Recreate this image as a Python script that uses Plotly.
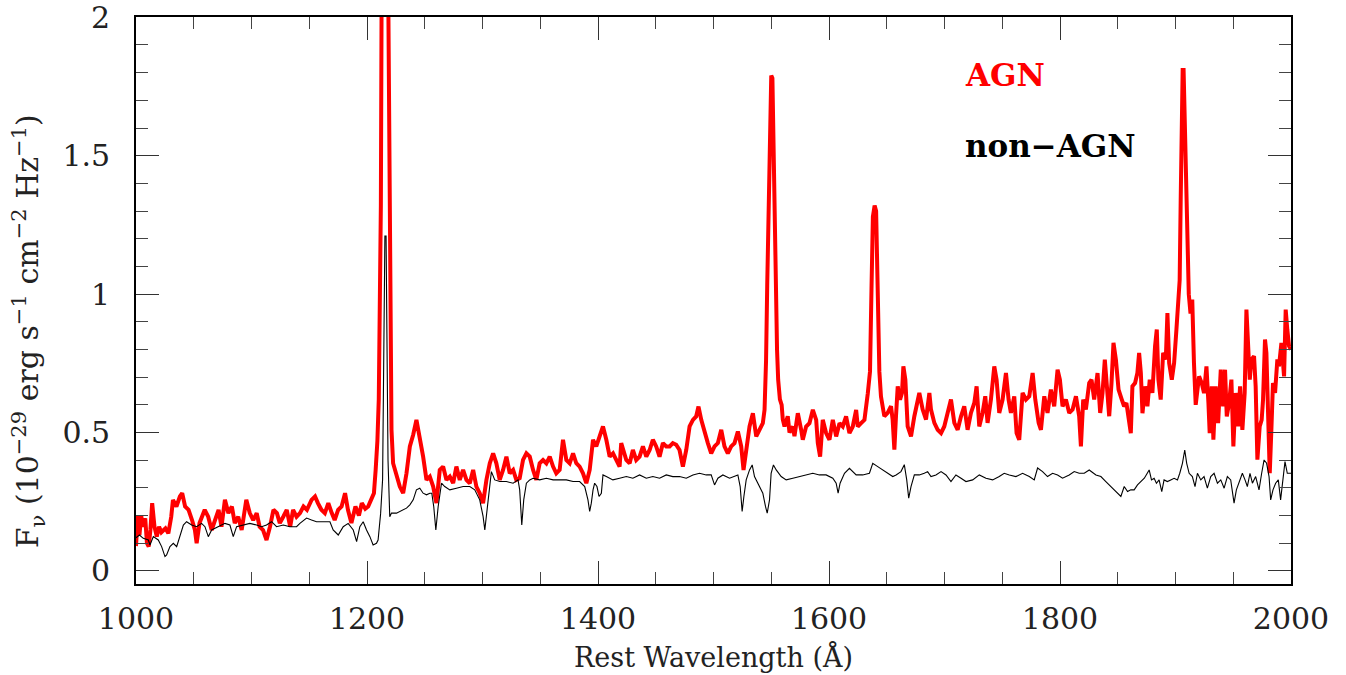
import plotly.graph_objects as go

# ---- data (rest wavelength in Angstrom, flux in 1e-29 erg/s/cm2/Hz) ----
agn_spectrum = [
    (1000.0, 0.09), (1001.5, 0.20), (1003, 0.13), (1004.5, 0.20), (1006, 0.16), (1008, 0.19), (1009.5, 0.10),
    (1011, 0.088), (1012.5, 0.15), (1014, 0.245), (1016, 0.16), (1018, 0.124), (1020, 0.16), (1022, 0.14),
    (1024, 0.148), (1025.5, 0.154), (1028, 0.136), (1030.5, 0.196), (1032, 0.257), (1035, 0.233), (1038, 0.269),
    (1040, 0.281), (1042.5, 0.233), (1045.5, 0.221), (1048.5, 0.184), (1051, 0.148), (1052.5, 0.10), (1055, 0.173),
    (1059.5, 0.221), (1062.5, 0.196), (1065.5, 0.148), (1068.5, 0.184), (1071.5, 0.221), (1074, 0.16), (1077, 0.257),
    (1080, 0.209), (1083, 0.233), (1085.5, 0.173), (1088.5, 0.196), (1091.5, 0.148), (1095.5, 0.257), (1098.5, 0.209),
    (1101.5, 0.184), (1104.5, 0.209), (1107, 0.16), (1110, 0.148), (1113, 0.112), (1116, 0.16), (1119, 0.221),
    (1122, 0.209), (1124.5, 0.173), (1127.5, 0.196), (1130.5, 0.221), (1133.5, 0.16), (1136, 0.221), (1139, 0.196),
    (1142, 0.209), (1145, 0.233), (1148, 0.221), (1152, 0.257), (1155, 0.269), (1157.5, 0.245), (1160.5, 0.221),
    (1163.5, 0.209), (1166.5, 0.245), (1169.5, 0.209), (1172, 0.184), (1175, 0.221), (1178, 0.233), (1181, 0.281),
    (1183.5, 0.221), (1186.5, 0.173), (1190, 0.233), (1193, 0.20), (1195.5, 0.245), (1198.5, 0.225), (1201, 0.233),
    (1203.5, 0.257), (1206, 0.281), (1207.5, 0.365), (1209, 0.47), (1210.2, 0.62), (1211.2, 0.9), (1212, 1.32),
    (1213, 2.5), (1214.5, 3.0), (1216, 3.2), (1217.5, 2.6), (1218.5, 1.95), (1219.5, 1.06), (1220.3, 0.7),
    (1221.2, 0.51), (1222.6, 0.389), (1225.5, 0.341), (1228.4, 0.305), (1231.3, 0.281), (1234.2, 0.353),
    (1237.1, 0.45), (1240, 0.492), (1242.8, 0.546), (1245.7, 0.486), (1248.6, 0.413), (1251.5, 0.329),
    (1254.4, 0.341), (1257.3, 0.305), (1260.1, 0.245), (1263, 0.365), (1265.9, 0.377), (1268.8, 0.329),
    (1271.7, 0.341), (1274.6, 0.317), (1277.4, 0.377), (1280.3, 0.329), (1283.2, 0.365), (1286.1, 0.329),
    (1289, 0.317), (1291.9, 0.365), (1294.7, 0.305), (1297.6, 0.281), (1300.5, 0.245), (1303.4, 0.329),
    (1306.3, 0.389), (1309.2, 0.425), (1312, 0.389), (1314.9, 0.329), (1317.8, 0.365), (1320.7, 0.413),
    (1323.6, 0.353), (1326.5, 0.365), (1329.3, 0.329), (1332.2, 0.335), (1335.1, 0.401), (1338, 0.425),
    (1340.9, 0.413), (1343.8, 0.365), (1346.6, 0.329), (1349.5, 0.389), (1352.4, 0.401), (1355.3, 0.389),
    (1358.2, 0.413), (1361.1, 0.377), (1363.9, 0.353), (1366.8, 0.365), (1369.7, 0.474), (1372.6, 0.401),
    (1375.5, 0.389), (1378.4, 0.425), (1381.2, 0.389), (1384.1, 0.377), (1387, 0.353), (1389.9, 0.317),
    (1392.8, 0.365), (1395.7, 0.474), (1398.5, 0.45), (1401.4, 0.486), (1404.3, 0.522), (1407.2, 0.474),
    (1410.1, 0.413), (1413, 0.425), (1415.9, 0.401), (1418.7, 0.377), (1420.1, 0.462), (1424.5, 0.401),
    (1427.4, 0.389), (1430.2, 0.437), (1433.1, 0.401), (1436, 0.413), (1438.9, 0.45), (1441.8, 0.413),
    (1444.7, 0.437), (1447.5, 0.474), (1450.4, 0.45), (1453.3, 0.413), (1456.2, 0.462), (1459.1, 0.45),
    (1462, 0.45), (1464.8, 0.462), (1467.7, 0.456), (1470.6, 0.437), (1473.5, 0.377), (1476.4, 0.437),
    (1479.3, 0.522), (1482.2, 0.546), (1485, 0.558), (1487, 0.594), (1489.4, 0.546), (1492.2, 0.498),
    (1495.1, 0.462), (1498, 0.425), (1500.9, 0.45), (1503.8, 0.462), (1506.7, 0.51), (1509.5, 0.45),
    (1512.4, 0.425), (1515.3, 0.45), (1518.2, 0.462), (1521.1, 0.504), (1524, 0.45), (1526, 0.365),
    (1528.3, 0.437), (1531.2, 0.522), (1534.1, 0.57), (1537, 0.486), (1539.8, 0.51), (1542.7, 0.534),
    (1544.2, 0.582), (1545.5, 0.76), (1546.5, 1.03), (1547.5, 1.26), (1548.3, 1.44), (1549.2, 1.68),
    (1550, 1.79), (1551, 1.78), (1552, 1.52), (1553, 1.14), (1554, 0.88), (1555, 0.8), (1556, 0.69),
    (1557.5, 0.62), (1559, 0.60), (1560, 0.547), (1561.5, 0.522), (1564.3, 0.559), (1565.8, 0.5),
    (1568.7, 0.522), (1570.1, 0.487), (1573, 0.57), (1575.9, 0.51), (1577.3, 0.474), (1580.2, 0.522),
    (1583.1, 0.534), (1586, 0.582), (1588.9, 0.546), (1590.3, 0.462), (1592.3, 0.413), (1594.6, 0.546),
    (1597.5, 0.498), (1600.4, 0.474), (1603.3, 0.546), (1606.2, 0.486), (1609.1, 0.534), (1611.9, 0.522),
    (1614.8, 0.558), (1617.7, 0.498), (1620.6, 0.522), (1623.5, 0.582), (1624.9, 0.522), (1627.8, 0.534),
    (1630.7, 0.546), (1633.6, 0.642), (1635.5, 0.72), (1636.8, 1.02), (1638, 1.28), (1639.5, 1.32),
    (1640.8, 1.30), (1641.8, 1.09), (1642.7, 0.87), (1643.6, 0.72), (1645, 0.63), (1646.5, 0.58),
    (1647.9, 0.559), (1650.8, 0.571), (1653.7, 0.595), (1655.1, 0.547), (1656.6, 0.438), (1658, 0.559),
    (1659.5, 0.667), (1661.5, 0.619), (1663.2, 0.643), (1664.4, 0.739), (1666.1, 0.691), (1668.1, 0.522),
    (1671, 0.486), (1673.9, 0.559), (1676.8, 0.619), (1678.2, 0.643), (1681.1, 0.583), (1684, 0.547),
    (1686.9, 0.643), (1688.3, 0.583), (1691.2, 0.535), (1694.1, 0.51), (1697, 0.498), (1699.8, 0.522),
    (1702.7, 0.571), (1705.6, 0.619), (1708.5, 0.535), (1711.4, 0.51), (1714.3, 0.559), (1717.1, 0.595),
    (1720, 0.51), (1722.9, 0.571), (1725.8, 0.607), (1727.8, 0.667), (1730.1, 0.522), (1733, 0.571),
    (1735.3, 0.631), (1737.3, 0.535), (1740.2, 0.619), (1743.1, 0.739), (1745.1, 0.691), (1747.4, 0.571),
    (1750.3, 0.619), (1753.2, 0.715), (1755.5, 0.619), (1757.5, 0.571), (1760.4, 0.631), (1762.4, 0.498),
    (1764.7, 0.474), (1767.6, 0.643), (1770.5, 0.619), (1773.4, 0.631), (1776.3, 0.715), (1778.6, 0.619),
    (1781.5, 0.535), (1783.5, 0.51), (1786.4, 0.631), (1789.2, 0.571), (1792.1, 0.655), (1795, 0.595),
    (1797.9, 0.727), (1799.9, 0.691), (1802.2, 0.595), (1805.1, 0.619), (1808, 0.571), (1810.9, 0.583),
    (1813.8, 0.631), (1816.6, 0.559), (1818.1, 0.45), (1820.1, 0.619), (1822.4, 0.583), (1825.3, 0.679),
    (1827.3, 0.691), (1829.6, 0.619), (1832.5, 0.715), (1834.8, 0.571), (1836.8, 0.643), (1838.8, 0.763),
    (1840.6, 0.667), (1842.6, 0.559), (1844.6, 0.679), (1846.3, 0.824), (1848.4, 0.763), (1850.7, 0.655),
    (1853.5, 0.619), (1855.5, 0.595), (1857.5, 0.607), (1859.3, 0.546), (1861.3, 0.498), (1862.7, 0.667),
    (1865, 0.679), (1867, 0.715), (1868.5, 0.788), (1870, 0.715), (1871.4, 0.57), (1873.7, 0.667),
    (1875.7, 0.595), (1877.7, 0.691), (1880, 0.643), (1882.3, 0.812), (1883.8, 0.872), (1885.2, 0.691),
    (1887.2, 0.619), (1889.3, 0.788), (1891.6, 0.764), (1893, 0.932), (1894.5, 0.751), (1896.8, 0.691),
    (1898.8, 0.751), (1900.8, 0.872), (1902.5, 0.968), (1903.6, 1.05), (1904.5, 1.34), (1905.3, 1.6),
    (1906.2, 1.81), (1907, 1.81), (1907.8, 1.68), (1908.8, 1.49), (1909.6, 1.3), (1910.5, 1.1),
    (1911.5, 1.0), (1913, 0.93), (1914.5, 0.98), (1916, 0.75), (1917.5, 0.6), (1920.4, 0.703),
    (1922.7, 0.679), (1924.7, 0.643), (1926.8, 0.739), (1928.5, 0.607), (1929.6, 0.498), (1931.4, 0.667),
    (1932.8, 0.474), (1934.8, 0.667), (1936.9, 0.534), (1939.2, 0.727), (1941.2, 0.595), (1942.9, 0.727),
    (1944.4, 0.558), (1946.4, 0.607), (1948.4, 0.691), (1950.1, 0.45), (1952.1, 0.643), (1954.2, 0.522),
    (1955.9, 0.667), (1957.9, 0.51), (1959.9, 0.643), (1961.4, 0.944), (1962.8, 0.776), (1964.3, 0.691),
    (1965.7, 0.764), (1968, 0.776), (1969.4, 0.667), (1970.9, 0.402), (1972.9, 0.522), (1974.6, 0.546),
    (1975.8, 0.619), (1977.5, 0.836), (1978.7, 0.788), (1980.1, 0.522), (1981.6, 0.353), (1983, 0.51),
    (1984.4, 0.679), (1986.2, 0.643), (1988.2, 0.764), (1989.6, 0.739), (1991.7, 0.824), (1994, 0.703),
    (1995.4, 0.944), (1996.8, 0.872), (1998.3, 0.812), (2000, 0.80),
]

non_agn_spectrum = [
    (1000, 0.12), (1003, 0.13), (1006.3, 0.118), (1010.7, 0.112), (1012.1, 0.094), (1015, 0.124), (1019.3, 0.112),
    (1022.2, 0.088), (1025.1, 0.052), (1026.5, 0.058), (1029.4, 0.088), (1032.3, 0.10), (1035.2, 0.088),
    (1038.1, 0.124), (1041, 0.166), (1043.8, 0.178), (1048.2, 0.166), (1052.5, 0.16), (1056.8, 0.172),
    (1059.7, 0.16), (1062.6, 0.124), (1065.5, 0.148), (1068.4, 0.154), (1071.2, 0.16), (1077, 0.172),
    (1081.3, 0.166), (1084.2, 0.124), (1087.1, 0.16), (1092.9, 0.166), (1098.6, 0.172), (1104.4, 0.166),
    (1108.7, 0.16), (1113, 0.166), (1117.4, 0.178), (1121.7, 0.16), (1127.5, 0.166), (1133.2, 0.16),
    (1139, 0.16), (1141.9, 0.172), (1147.7, 0.191), (1152, 0.184), (1156.3, 0.178), (1162.1, 0.178),
    (1167.9, 0.178), (1170.7, 0.148), (1175.1, 0.13), (1179.4, 0.16), (1183.7, 0.172), (1188.1, 0.148),
    (1191, 0.106), (1193.8, 0.16), (1196.7, 0.178), (1199.6, 0.148), (1202.5, 0.124), (1205.3, 0.094),
    (1208.2, 0.10), (1209.6, 0.112), (1211.8, 0.208), (1213.5, 0.33), (1214.5, 0.7), (1215.5, 1.21),
    (1216.5, 1.21), (1217.3, 0.86), (1218.2, 0.4), (1219.7, 0.196), (1221.2, 0.209), (1225.5, 0.209),
    (1228.4, 0.215), (1231.3, 0.221), (1234.2, 0.227), (1237.1, 0.239), (1240, 0.257), (1242.8, 0.293),
    (1245.7, 0.299), (1248.6, 0.281), (1251.5, 0.275), (1254.4, 0.281), (1256.1, 0.281), (1257.8, 0.232),
    (1259.6, 0.148), (1261.6, 0.232), (1264.5, 0.317), (1267.3, 0.305), (1271.7, 0.293), (1277.4, 0.299),
    (1283.2, 0.305), (1289, 0.305), (1293.3, 0.293), (1297.6, 0.257), (1300.5, 0.197), (1302, 0.148),
    (1304.8, 0.257), (1307.7, 0.359), (1310.6, 0.329), (1315, 0.323), (1320.7, 0.323), (1326.5, 0.317),
    (1330.8, 0.329), (1332.2, 0.293), (1334, 0.166), (1335.7, 0.257), (1338, 0.317), (1340.9, 0.329),
    (1343.8, 0.335), (1349.5, 0.329), (1355.3, 0.335), (1361.1, 0.329), (1366.8, 0.329), (1372.6, 0.329),
    (1378.4, 0.323), (1384.1, 0.323), (1388.5, 0.305), (1391.3, 0.257), (1392.8, 0.215), (1394.2, 0.245),
    (1395.7, 0.293), (1397.1, 0.317), (1399.1, 0.305), (1400.9, 0.269), (1402.9, 0.281), (1404.3, 0.347),
    (1407.2, 0.341), (1412.9, 0.329), (1418.7, 0.335), (1424.5, 0.341), (1430.2, 0.335), (1436, 0.347),
    (1441.8, 0.335), (1447.5, 0.341), (1453.3, 0.335), (1459.1, 0.347), (1464.8, 0.341), (1470.6, 0.341),
    (1476.4, 0.335), (1482.2, 0.347), (1487.9, 0.353), (1493.7, 0.347), (1498, 0.347), (1500.9, 0.311),
    (1503.8, 0.335), (1508.1, 0.347), (1513.9, 0.335), (1518.2, 0.341), (1521.1, 0.347), (1523.1, 0.305),
    (1524.8, 0.215), (1526.3, 0.269), (1528.3, 0.329), (1531.2, 0.365), (1533.5, 0.383), (1535.5, 0.341),
    (1538.4, 0.317), (1542.7, 0.281), (1545, 0.233), (1546.5, 0.209), (1548.5, 0.257), (1549.9, 0.353),
    (1551.9, 0.383), (1554.3, 0.365), (1558.6, 0.341), (1562.9, 0.329), (1568.7, 0.335), (1574.4, 0.341),
    (1580.2, 0.347), (1586, 0.353), (1591.7, 0.347), (1597.5, 0.347), (1603.3, 0.335), (1606.2, 0.317),
    (1607.9, 0.281), (1609.6, 0.317), (1613.4, 0.353), (1617.7, 0.371), (1623.5, 0.347), (1629.2, 0.347),
    (1635, 0.353), (1637.9, 0.389), (1642.2, 0.377), (1646.5, 0.365), (1650.9, 0.353), (1655.2, 0.341),
    (1658.1, 0.347), (1662.3, 0.359), (1665.2, 0.384), (1667.3, 0.329), (1669, 0.263), (1671, 0.305),
    (1673.9, 0.347), (1678.2, 0.347), (1682.5, 0.353), (1685.4, 0.359), (1688.3, 0.341), (1692.6, 0.347),
    (1697, 0.359), (1701.3, 0.347), (1705.6, 0.323), (1709.9, 0.347), (1714.3, 0.335), (1718.6, 0.323),
    (1724.4, 0.329), (1730.1, 0.347), (1735.9, 0.335), (1741.7, 0.329), (1747.4, 0.341), (1751.7, 0.353),
    (1756.1, 0.347), (1761.8, 0.341), (1767.6, 0.353), (1773.4, 0.341), (1777.7, 0.329), (1780.6, 0.372),
    (1784.9, 0.359), (1789.2, 0.341), (1793.6, 0.353), (1797.9, 0.347), (1802.2, 0.335), (1808, 0.347),
    (1812.3, 0.359), (1816.6, 0.353), (1821, 0.353), (1825.3, 0.365), (1831.1, 0.347), (1835.4, 0.341),
    (1839.7, 0.323), (1844, 0.305), (1848.4, 0.287), (1852.7, 0.269), (1855.6, 0.305), (1858.5, 0.287),
    (1861.3, 0.293), (1864.2, 0.293), (1867.1, 0.311), (1870, 0.323), (1873, 0.335), (1877.2, 0.365),
    (1879.2, 0.329), (1881.5, 0.335), (1883.5, 0.317), (1885.8, 0.329), (1888.1, 0.287), (1890.1, 0.329),
    (1893, 0.323), (1895.9, 0.329), (1898.8, 0.335), (1901.7, 0.329), (1903.7, 0.353), (1906, 0.389),
    (1908, 0.437), (1909.7, 0.389), (1911.8, 0.353), (1914.6, 0.341), (1916.9, 0.305), (1919, 0.353),
    (1921.9, 0.329), (1924.7, 0.341), (1927.6, 0.299), (1930.5, 0.341), (1933.4, 0.353), (1936.3, 0.317),
    (1939.2, 0.329), (1942.1, 0.299), (1944.9, 0.341), (1947.8, 0.329), (1950.7, 0.245), (1952.7, 0.293),
    (1955, 0.317), (1957.9, 0.353), (1960.2, 0.329), (1962.2, 0.305), (1964.5, 0.353), (1966.6, 0.317),
    (1969.4, 0.341), (1972.3, 0.293), (1974.6, 0.353), (1976.7, 0.401), (1978.9, 0.389), (1981, 0.341),
    (1982.4, 0.257), (1984.4, 0.293), (1986.7, 0.317), (1989, 0.329), (1991, 0.257), (1993.1, 0.341),
    (1994.8, 0.395), (1996.8, 0.353), (2000, 0.353),
]

agn_wave = [p[0] for p in agn_spectrum]
agn_flux = [p[1] for p in agn_spectrum]
non_wave = [p[0] for p in non_agn_spectrum]
non_flux = [p[1] for p in non_agn_spectrum]

x_tickvals = [1000, 1200, 1400, 1600, 1800, 2000]
y_tickvals = [0, 0.5, 1, 1.5, 2]
y_ticktext = ["0", "0.5", "1", "1.5", "2"]

SERIF = "DejaVu Serif"

fig = go.Figure()
fig.add_trace(go.Scatter(x=agn_wave, y=agn_flux, mode="lines", name="AGN",
                         line=dict(color="#ff0000", width=4)))
fig.add_trace(go.Scatter(x=non_wave, y=non_flux, mode="lines", name="non-AGN",
                         line=dict(color="#000000", width=1.1)))

axis_common = dict(
    showgrid=False, zeroline=False, showline=True, linecolor="#000", linewidth=1.6,
    mirror="allticks", ticks="inside", ticklen=23, tickwidth=1.4, tickcolor="#333",
    tickfont=dict(family=SERIF, size=30, color="#222"), ticklabeloverflow="allow",
    automargin=False,
)

fig.update_xaxes(range=[1000, 2000], tickvals=x_tickvals, ticklabelstandoff=7,
                 minor=dict(ticks="inside", dtick=50, ticklen=12, tickwidth=1.3, tickcolor="#444", showgrid=False),
                 **axis_common)
fig.update_yaxes(range=[-0.047, 2.001], tickvals=y_tickvals, ticktext=y_ticktext, ticklabelstandoff=18,
                 minor=dict(ticks="inside", dtick=0.1, tick0=0, ticklen=12, tickwidth=1.3, tickcolor="#444", showgrid=False),
                 **axis_common)

fig.add_annotation(text="Rest Wavelength (Å)", xref="paper", yref="paper", x=0.5, y=-0.128,
                   xanchor="center", yanchor="middle", showarrow=False,
                   font=dict(family=SERIF, size=27, color="#222"))
fig.add_annotation(text="F<sub>ν</sub> (10<sup>−29</sup> erg s<sup>−1</sup> cm<sup>−2</sup> Hz<sup>−1</sup>)",
                   xref="paper", yref="paper", x=-0.093, y=0.445, textangle=-90,
                   xanchor="center", yanchor="middle", showarrow=False,
                   font=dict(family=SERIF, size=30, color="#222"))
fig.add_annotation(text="<b>AGN</b>", xref="paper", yref="paper", x=0.716, y=0.898,
                   xanchor="left", yanchor="middle", showarrow=False,
                   font=dict(family=SERIF, size=31, color="#ff0000"))
fig.add_annotation(text="<b>non−AGN</b>", xref="paper", yref="paper", x=0.716, y=0.773,
                   xanchor="left", yanchor="middle", showarrow=False,
                   font=dict(family=SERIF, size=31, color="#000000"))

fig.update_layout(width=1346, height=675, showlegend=False,
                  margin=dict(l=136, r=55, t=17, b=91, autoexpand=False),
                  plot_bgcolor="white", paper_bgcolor="white")

# remove the default 8px page margin so the figure fills the window exactly
fig.write_html("out.html", config={"displayModeBar": False},
               post_script="document.body.style.margin='0';")
